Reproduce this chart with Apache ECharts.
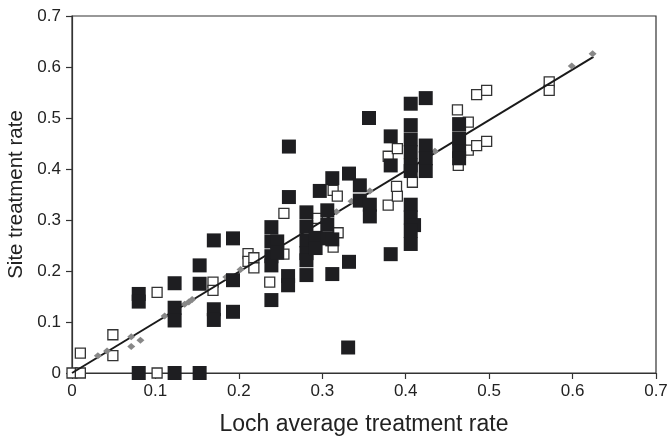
<!DOCTYPE html>
<html>
<head>
<meta charset="utf-8">
<script src="https://cdn.jsdelivr.net/npm/echarts@6/dist/echarts.min.js"></script>
<style>
  html, body { margin: 0; padding: 0; background: #fff; }
  #chart { width: 671px; height: 439px; }
</style>
</head>
<body>
<div id="chart"></div>
<script>
// Sites with treatment rate data: [loch average rate, site rate]
const filledSites = [
  [0.08, 0], [0.123, 0], [0.153, 0],
  [0.08, 0.155], [0.08, 0.14],
  [0.123, 0.176], [0.123, 0.128], [0.123, 0.103],
  [0.153, 0.211], [0.153, 0.175],
  [0.17, 0.26], [0.17, 0.125], [0.17, 0.104],
  [0.193, 0.264], [0.193, 0.182], [0.193, 0.12],
  [0.239, 0.286], [0.239, 0.258], [0.239, 0.229], [0.239, 0.211],
  [0.246, 0.258], [0.246, 0.236], [0.239, 0.143],
  [0.259, 0.19], [0.259, 0.172], [0.26, 0.345], [0.26, 0.444],
  [0.281, 0.315], [0.281, 0.287], [0.281, 0.26], [0.281, 0.235], [0.281, 0.221], [0.281, 0.192],
  [0.292, 0.265], [0.292, 0.245],
  [0.306, 0.319], [0.306, 0.291], [0.306, 0.264], [0.312, 0.262],
  [0.297, 0.357], [0.312, 0.382], [0.332, 0.391],
  [0.312, 0.194], [0.332, 0.218], [0.331, 0.05],
  [0.345, 0.368], [0.345, 0.338], [0.357, 0.33], [0.357, 0.307],
  [0.356, 0.5], [0.382, 0.464], [0.382, 0.407], [0.382, 0.233],
  [0.406, 0.528], [0.424, 0.539],
  [0.406, 0.486], [0.406, 0.458], [0.406, 0.433], [0.406, 0.407], [0.406, 0.396],
  [0.424, 0.446], [0.424, 0.421], [0.424, 0.396],
  [0.464, 0.488], [0.464, 0.46], [0.464, 0.435], [0.464, 0.421],
  [0.406, 0.33], [0.406, 0.305], [0.41, 0.29], [0.406, 0.279], [0.406, 0.253]
];

const openSites = [
  [0, 0], [0.01, 0], [0.01, 0.039], [0.049, 0.075], [0.049, 0.034],
  [0.102, 0], [0.102, 0.158], [0.169, 0.178], [0.169, 0.162],
  [0.211, 0.234], [0.211, 0.219], [0.218, 0.226], [0.218, 0.206],
  [0.237, 0.178], [0.254, 0.313], [0.254, 0.233], [0.294, 0.303],
  [0.313, 0.358], [0.318, 0.347], [0.319, 0.275], [0.313, 0.247],
  [0.379, 0.329], [0.39, 0.347], [0.389, 0.366], [0.408, 0.374],
  [0.379, 0.425], [0.39, 0.44],
  [0.462, 0.516], [0.485, 0.546], [0.497, 0.554], [0.475, 0.492],
  [0.475, 0.437], [0.485, 0.446], [0.497, 0.454], [0.463, 0.407],
  [0.572, 0.571], [0.572, 0.554]
];

const lochAverages = [
  [0.031, 0.034], [0.042, 0.043], [0.071, 0.071], [0.071, 0.052], [0.082, 0.064],
  [0.111, 0.112], [0.135, 0.135], [0.14, 0.139], [0.144, 0.144], [0.185, 0.188],
  [0.202, 0.203], [0.317, 0.316], [0.335, 0.337], [0.357, 0.357], [0.435, 0.435],
  [0.599, 0.602], [0.624, 0.626]
];

const trendLine = [[0, 0], [0.625, 0.62]];

const xTicks = { min: 0, max: 0.7, step: 0.1 };
const yTicks = { min: 0, max: 0.7, step: 0.1 };

const FONT = 'Liberation Sans, Arial, sans-serif';
const INK = '#222';

const chart = echarts.init(document.getElementById('chart'), null, { renderer: 'canvas' });

chart.setOption({
  animation: false,
  backgroundColor: '#fff',
  grid: {
    left: 72, right: 15, top: 16, bottom: 66,
    outerBoundsMode: 'none',
    containLabel: false,
    show: true, borderColor: '#333', borderWidth: 1.2, backgroundColor: 'transparent'
  },
  xAxis: {
    type: 'value',
    min: xTicks.min, max: xTicks.max, interval: xTicks.step,
    name: 'Loch average treatment rate',
    nameLocation: 'middle',
    nameGap: 40,
    nameTextStyle: { fontFamily: FONT, fontSize: 23, color: INK },
    axisLine: { show: true, onZero: false, lineStyle: { color: '#333', width: 1.2 } },
    axisTick: { show: true, inside: false, length: 6, lineStyle: { color: '#333', width: 1.2 } },
    axisLabel: { fontFamily: FONT, fontSize: 17, color: INK, margin: 10 },
    splitLine: { show: false }
  },
  yAxis: {
    type: 'value',
    min: yTicks.min, max: yTicks.max, interval: yTicks.step,
    name: 'Site treatment rate',
    nameLocation: 'middle',
    nameGap: 41,
    nameTextStyle: { fontFamily: FONT, fontSize: 20.5, color: INK },
    axisLine: { show: true, onZero: false, lineStyle: { color: '#333', width: 1.2 } },
    axisTick: { show: true, inside: false, length: 6, lineStyle: { color: '#333', width: 1.2 } },
    axisLabel: { fontFamily: FONT, fontSize: 17, color: INK, margin: 11 },
    splitLine: { show: false }
  },
  series: [
    {
      name: 'open',
      type: 'scatter',
      data: openSites,
      symbol: 'rect',
      symbolSize: 10,
      itemStyle: { color: '#fff', borderColor: '#333', borderWidth: 1.3, opacity: 1 },
      z: 2
    },
    {
      name: 'trend',
      type: 'line',
      data: trendLine,
      symbol: 'none',
      lineStyle: { color: '#1a1a1a', width: 2 },
      z: 3
    },
    {
      name: 'loch',
      type: 'scatter',
      data: lochAverages,
      symbol: 'diamond',
      symbolSize: [8, 7],
      itemStyle: { color: '#888', opacity: 1 },
      z: 4
    },
    {
      name: 'filled',
      type: 'scatter',
      data: filledSites,
      symbol: 'rect',
      symbolSize: 14,
      itemStyle: { color: '#1e1e21', opacity: 1 },
      z: 5
    }
  ]
});
</script>
</body>
</html>
